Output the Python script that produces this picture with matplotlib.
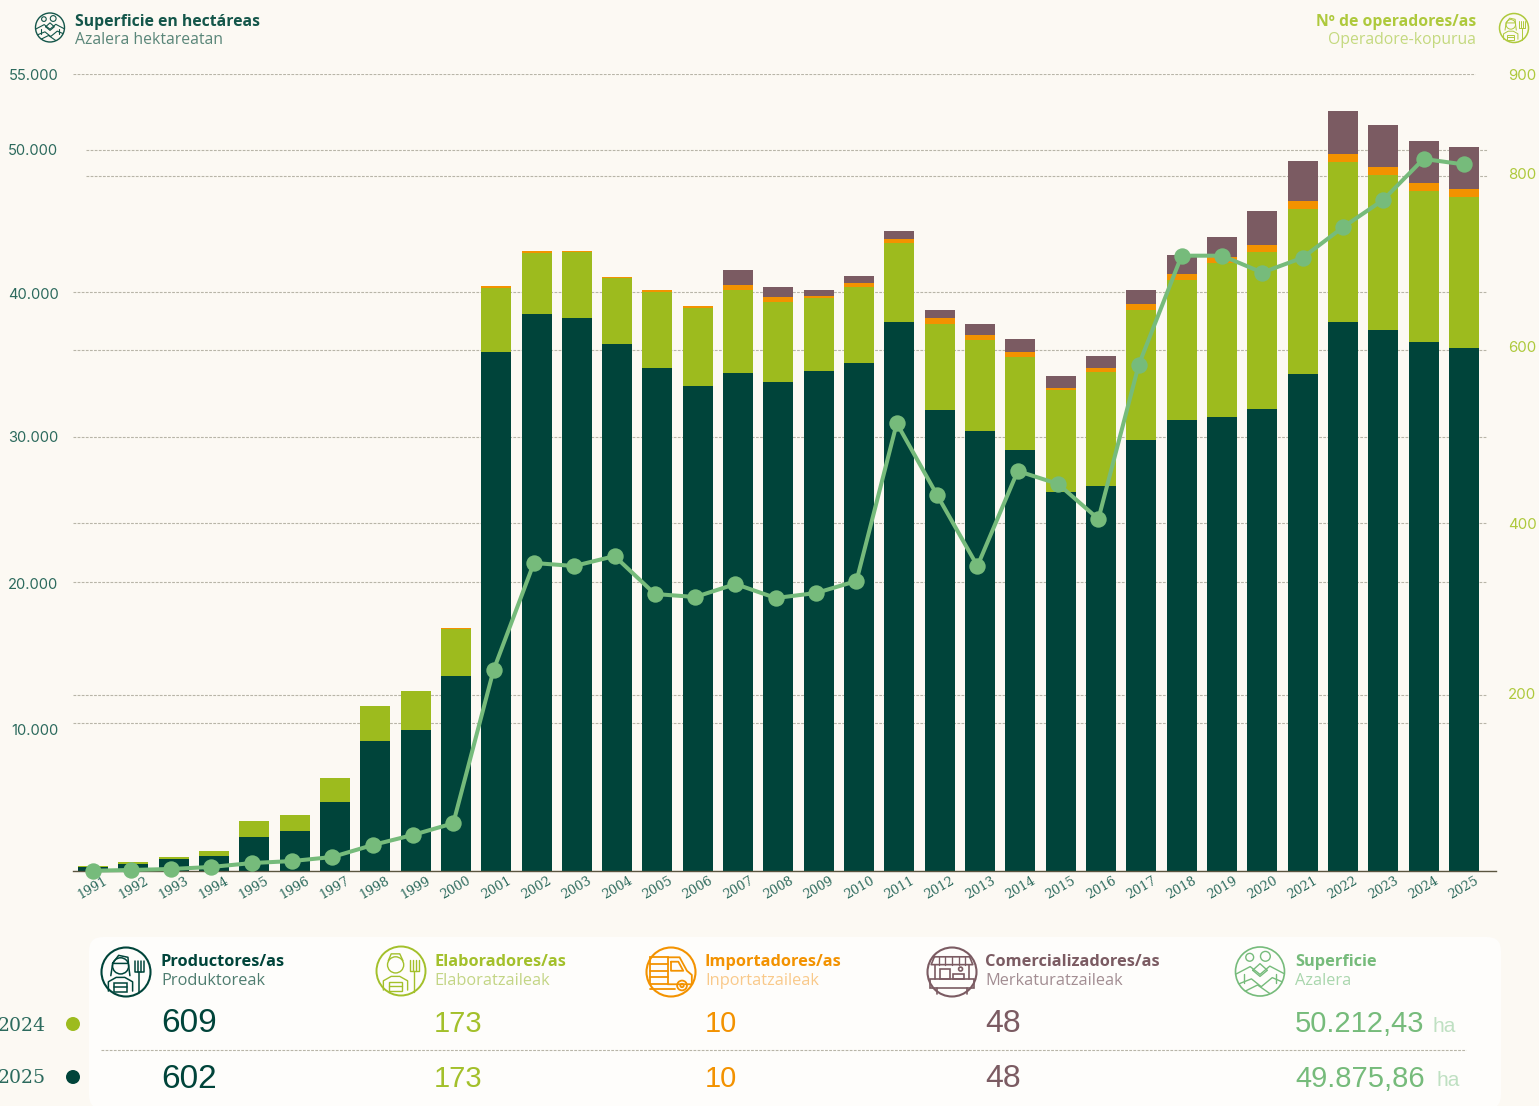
# Organic farming chart: stacked operators (bars) and surface (line), with a summary panel below
import numpy as np
import matplotlib
matplotlib.use("Agg")
import matplotlib.pyplot as plt
from matplotlib.lines import Line2D
from matplotlib.patches import Circle, FancyBboxPatch, Rectangle
from matplotlib.transforms import ScaledTranslation

years = list(range(1991, 2026))
productores = [5, 8, 14, 17, 39, 46, 79, 150, 162, 224, 597, 641, 636, 606, 579, 558, 573, 563, 575, 585,
               632, 530, 506, 484, 436, 443, 496, 519, 522, 532, 572, 632, 623, 609, 602]
elaboradores = [1, 2, 2, 6, 18, 18, 28, 40, 45, 54, 74, 70, 76, 76, 87, 90, 96, 92, 84, 87,
                90, 99, 105, 107, 117, 131, 150, 161, 177, 180, 190, 184, 178, 173, 173]
importadores = [0, 0, 0, 0, 0, 0, 0, 0, 0, 2, 2, 2, 1, 1, 2, 2, 5, 5, 3, 4,
                5, 7, 6, 6, 3, 5, 6, 7, 7, 8, 9, 9, 9, 10, 10]
comercializadores = [0, 0, 0, 0, 0, 0, 0, 0, 0, 0, 0, 0, 0, 0, 0, 0, 17, 12, 7, 9,
                     9, 9, 12, 15, 14, 14, 17, 22, 24, 39, 46, 49, 48, 48, 48]
superficie = [20, 70, 140, 280, 550, 690, 970, 1800, 2500, 3310, 13940, 21360, 21150, 21840, 19210, 19000,
              19900, 18930, 19280, 20110, 31050, 26070, 21150, 27740, 26840, 24410, 35090, 42670, 42670,
              41500, 42530, 44640, 46540, 49380, 49000]
# the line's points sit a little left of the bars up to 2017
line_shift = [0] + [0.065] * 26 + [0] * 8

left_ticks = [10240, 20040, 30120, 40130, 50000, 55270]
left_labels = ["10.000", "20.000", "30.000", "40.000", "50.000", "55.000"]
right_ticks = [202, 400, 600, 800, 917]
right_labels = ["200", "400", "600", "800", "900"]

DARK = "#00443a"
GREEN = "#9dbb1e"
ORANGE = "#f39200"
BROWN = "#7b5b62"
LINE = "#76bb7b"
BG = "#fcf9f3"
GRID = "#b8b5a8"

W, H = 1539, 1106
fig = plt.figure(figsize=(W / 100, H / 100), dpi=100, facecolor=BG)

# pixel-based layer for panel, headings and icons
ov = fig.add_axes([0, 0, 1, 1], zorder=0)
ov.set_xlim(0, W)
ov.set_ylim(H, 0)
ov.axis("off")

# main axes: 73..1496 px wide, 74..871 px tall
left, right, top, bottom = 73, 1496, 74, 871
ax_line = fig.add_axes([left / W, 1 - bottom / H, (right - left) / W, (bottom - top) / H])
ax_bars = ax_line.twinx()
ax_bars.yaxis.tick_right()
ax_line.yaxis.tick_left()
ax_line.patch.set_visible(False)
ax_bars.patch.set_visible(False)
ax_bars.set_zorder(2)
ax_line.set_zorder(3)  # line over the bars

x0 = 1991 - (93 - left) / 40.32
x1 = 1991 + (right - 93) / 40.32
ax_line.set_xlim(x0, x1)
ax_bars.set_ylim(0, 917)
ax_line.set_ylim(0, 55270)

# stacked bars
bottoms = np.zeros(len(years))
for vals, col in [(productores, DARK), (elaboradores, GREEN), (importadores, ORANGE), (comercializadores, BROWN)]:
    ax_bars.bar(years, vals, bottom=bottoms, width=0.744, color=col, linewidth=0, zorder=3)
    bottoms = bottoms + np.array(vals)

line_x = np.array(years) - np.array(line_shift)
ax_line.plot(line_x, superficie, color=LINE, lw=2.9, marker="o", ms=11.8, mew=0, clip_on=False, zorder=5)


def grid(ax, val, a=0.0, b=0.994):
    ax_bars.add_line(Line2D([a, b], [val, val], transform=ax.get_yaxis_transform(), color=GRID, lw=0.8,
                            ls=(0, (2.5, 1.2)), zorder=1))


for v in left_ticks[:4]:
    grid(ax_line, v)
grid(ax_line, left_ticks[4], 0.009)
grid(ax_line, left_ticks[5], 0.0, 0.985)
for v in right_ticks[:3]:
    grid(ax_bars, v)
grid(ax_bars, right_ticks[3], 0.009)

# axes text
ax_line.set_yticks(left_ticks)
ax_line.set_yticklabels(left_labels, family="Inter", fontsize=10.6, color="#2c6a5d")
ax_bars.set_yticks(right_ticks)
ax_bars.set_yticklabels(right_labels, family="Inter", fontsize=10.8, color="#aec93c")
ax_line.tick_params(axis="y", length=0, pad=10.5)
ax_bars.tick_params(axis="y", length=0, pad=8.5)
ax_line.set_xticks(years)
ax_line.set_xticklabels(years, family="DejaVu Serif", fontsize=9.2, color="#2c6a5d", rotation=30, ha="center")
ax_line.tick_params(axis="x", length=0, pad=2.5)

# nudge a few tick labels to where the reference puts them
for lab, dy in zip(ax_line.get_yticklabels(), [-6, -1, 0, -1, 0, 0]):
    lab.set_transform(lab.get_transform() + ScaledTranslation(0, dy / 100, fig.dpi_scale_trans))
for lab, dy in zip(ax_bars.get_yticklabels(), [2, 0, 3, 2, -1]):
    lab.set_transform(lab.get_transform() + ScaledTranslation(0, dy / 100, fig.dpi_scale_trans))

for ax in (ax_line, ax_bars):
    for s in ax.spines.values():
        s.set_visible(False)
ax_line.spines["bottom"].set_visible(True)
ax_line.spines["bottom"].set_color("#5b5540")
ax_line.spines["bottom"].set_linewidth(1.0)


# icons: small line drawings, coordinates are relative to the icon radius
def ring(cx, cy, r, col, lw=1.4):
    ov.add_patch(Circle((cx, cy), r, fill=False, ec=col, lw=lw))


def stroke(cx, cy, r, pts, col, lw=1.1):
    p = np.array(pts, dtype=float)
    ov.plot(cx + p[:, 0] * r, cy + p[:, 1] * r, color=col, lw=lw, solid_capstyle="round")


def dot(cx, cy, r, x, y, s, col, lw=1.1):
    ov.add_patch(Circle((cx + x * r, cy + y * r), s * r, fill=False, ec=col, lw=lw))


def box(cx, cy, r, x, y, w, h, col, lw=1.1):
    ov.add_patch(Rectangle((cx + x * r, cy + y * r), w * r, h * r, fill=False, ec=col, lw=lw))


def icon_person(cx, cy, r, col, lw=1.1, scarf=True):
    ring(cx, cy, r, col, lw + 0.4)
    dot(cx, cy, r, -0.22, -0.25, 0.33, col, lw)
    if scarf:
        stroke(cx, cy, r, [(-0.55, -0.35), (-0.3, -0.68), (0.08, -0.6), (0.1, -0.35), (-0.55, -0.35)], col, lw)
        stroke(cx, cy, r, [(-0.55, -0.3), (-0.62, 0.15)], col, lw)
        stroke(cx, cy, r, [(0.1, -0.3), (0.16, 0.15)], col, lw)
    else:
        stroke(cx, cy, r, [(-0.52, -0.42), (-0.4, -0.7), (-0.05, -0.7), (0.08, -0.42)], col, lw)
    stroke(cx, cy, r, [(-0.72, 0.78), (-0.72, 0.4), (-0.4, 0.22), (-0.05, 0.22), (0.27, 0.4), (0.27, 0.78)], col, lw)
    box(cx, cy, r, -0.47, 0.45, 0.5, 0.38, col, lw)
    stroke(cx, cy, r, [(-0.47, 0.62), (0.03, 0.62)], col, lw)
    # fork
    stroke(cx, cy, r, [(0.55, -0.02), (0.55, 0.85)], col, lw)
    stroke(cx, cy, r, [(0.35, -0.45), (0.35, 0.0), (0.75, 0.0), (0.75, -0.45)], col, lw)
    stroke(cx, cy, r, [(0.48, -0.45), (0.48, 0.0)], col, lw)
    stroke(cx, cy, r, [(0.62, -0.45), (0.62, 0.0)], col, lw)


def icon_truck(cx, cy, r, col, lw=1.3):
    ring(cx, cy, r, col, 1.5)
    box(cx, cy, r, -0.85, -0.6, 0.72, 1.1, col, lw)
    for yy in (-0.32, -0.05, 0.22):
        stroke(cx, cy, r, [(-0.85, yy), (-0.13, yy)], col, lw)
    stroke(cx, cy, r, [(-0.13, -0.6), (0.35, -0.6), (0.65, -0.05), (0.85, 0.12), (0.85, 0.5), (-0.13, 0.5)], col, lw)
    stroke(cx, cy, r, [(0.0, -0.42), (0.3, -0.42), (0.5, -0.05), (0.0, -0.05), (0.0, -0.42)], col, lw)
    dot(cx, cy, r, 0.45, 0.55, 0.2, col, lw)
    dot(cx, cy, r, 0.45, 0.55, 0.07, col, lw)
    stroke(cx, cy, r, [(-0.85, 0.68), (0.15, 0.68)], col, lw)


def icon_stall(cx, cy, r, col, lw=1.2):
    ring(cx, cy, r, col, 1.5)
    stroke(cx, cy, r, [(-0.72, -0.62), (0.72, -0.62), (0.85, -0.3), (-0.85, -0.3), (-0.72, -0.62)], col, lw)
    for xx in np.linspace(-0.55, 0.55, 5):
        stroke(cx, cy, r, [(xx, -0.62), (xx, -0.3)], col, lw * 0.8)
    stroke(cx, cy, r, [(-0.7, -0.3), (-0.7, 0.3)], col, lw)
    stroke(cx, cy, r, [(0.7, -0.3), (0.7, 0.3)], col, lw)
    box(cx, cy, r, -0.5, -0.12, 0.4, 0.42, col, lw)
    box(cx, cy, r, 0.05, 0.1, 0.45, 0.2, col, lw)
    dot(cx, cy, r, 0.35, -0.12, 0.08, col, lw)
    box(cx, cy, r, -0.9, 0.3, 1.8, 0.35, col, lw)
    stroke(cx, cy, r, [(-0.6, 0.65), (-0.6, 0.9)], col, lw)
    stroke(cx, cy, r, [(0.6, 0.65), (0.6, 0.9)], col, lw)


def icon_land(cx, cy, r, col, lw=1.1):
    ring(cx, cy, r, col, lw + 0.2)
    stroke(cx, cy, r, [(-0.97, 0.1), (-0.4, -0.2), (0.0, 0.12), (0.4, -0.22), (0.97, 0.08)], col, lw)
    stroke(cx, cy, r, [(-0.85, 0.5), (-0.35, 0.3), (0.05, 0.62), (0.5, 0.25), (0.9, 0.42)], col, lw)
    stroke(cx, cy, r, [(-0.6, 0.8), (-0.1, 0.55), (0.4, 0.9)], col, lw)
    stroke(cx, cy, r, [(-0.3, -0.05), (0.0, -0.32), (0.3, -0.05), (0.0, 0.2), (-0.3, -0.05)], col, lw)
    dot(cx, cy, r, -0.42, -0.58, 0.16, col, lw)
    dot(cx, cy, r, 0.22, -0.62, 0.2, col, lw)
    stroke(cx, cy, r, [(-0.65, 0.45), (-0.65, 0.1)], col, lw)
    stroke(cx, cy, r, [(0.65, 0.45), (0.65, 0.1)], col, lw)


# headings above the chart
OPEN = ["Open Sans", "DejaVu Sans"]
icon_land(50, 27.5, 14.5, "#14564a", 0.8)
ov.text(75, 21.5, "Superficie en hectáreas", family=OPEN, weight="bold", fontsize=11.35, color="#14564a", va="center")
ov.text(75, 39.5, "Azalera hektareatan", family=OPEN, fontsize=11.35, color="#5a8679", va="center")
icon_person(1514, 28, 14.5, "#aec93c", 0.7, scarf=True)
ov.text(1476, 21.5, "Nº de operadores/as", family=OPEN, weight="bold", fontsize=11.35, color="#aec93c", va="center", ha="right")
ov.text(1476, 39.5, "Operadore-kopurua", family=OPEN, fontsize=11.35, color="#c4d97f", va="center", ha="right")

# summary panel
ov.add_patch(FancyBboxPatch((89, 937), 1412, 172, boxstyle="round,pad=0,rounding_size=14", fc="#fefdfb", ec="none"))

col_x = [161, 434, 705, 985, 1295]
col_icon = [126, 401, 671, 952, 1260]
col_main = [DARK, "#a3c02b", ORANGE, BROWN, LINE]
col_sub = ["#4f7d70", "#c3d585", "#f9c98a", "#a28d92", "#a9d6ad"]
col_size = [24, 21, 21, 23, 21]
titles = ["Productores/as", "Elaboradores/as", "Importadores/as", "Comercializadores/as", "Superficie"]
subs = ["Produktoreak", "Elaboratzaileak", "Inportatzaileak", "Merkaturatzaileak", "Azalera"]
vals_2024 = ["609", "173", "10", "48", "50.212,43"]
vals_2025 = ["602", "173", "10", "48", "49.875,86"]

for i in range(5):
    ov.text(col_x[i], 962, titles[i], family=OPEN, weight="bold", fontsize=11.8, color=col_main[i], va="center")
    ov.text(col_x[i], 981, subs[i], family=OPEN, fontsize=11.8, color=col_sub[i], va="center")
    ov.text(col_x[i], 1024, vals_2024[i], family="Liberation Sans", fontsize=col_size[i], color=col_main[i], va="center")
    ov.text(col_x[i], 1079, vals_2025[i], family="Liberation Sans", fontsize=col_size[i], color=col_main[i], va="center")

icon_person(col_icon[0], 972, 24.5, DARK, 1.1, scarf=True)
icon_person(col_icon[1], 971, 24.5, "#a3c02b", 1.0, scarf=False)
icon_truck(col_icon[2], 972, 24.5, ORANGE)
icon_stall(col_icon[3], 972, 24.5, BROWN)
icon_land(col_icon[4], 971.5, 24.5, LINE, 1.0)

ov.text(1432, 1026, "ha", family="Liberation Sans", fontsize=15, color="#bfe0c2", va="center")
ov.text(1436, 1081, "ha", family="Liberation Sans", fontsize=15, color="#bfe0c2", va="center")
ov.plot([101, 1466], [1050, 1050], color=GRID, lw=0.8, ls=(0, (2.5, 1.2)))

# year keys, cut by the left edge as in the source
ov.text(46, 1026, "2024", family="DejaVu Serif", fontsize=13.6, color="#2c6a5d", va="center", ha="right", clip_on=False)
ov.text(46, 1078, "2025", family="DejaVu Serif", fontsize=13.6, color="#2c6a5d", va="center", ha="right", clip_on=False)
ov.add_patch(Circle((73, 1024), 7, fc=GREEN, ec="none"))
ov.add_patch(Circle((73, 1077), 7, fc=DARK, ec="none"))

fig.savefig("out.png", dpi=100, facecolor=BG)
plt.close(fig)
